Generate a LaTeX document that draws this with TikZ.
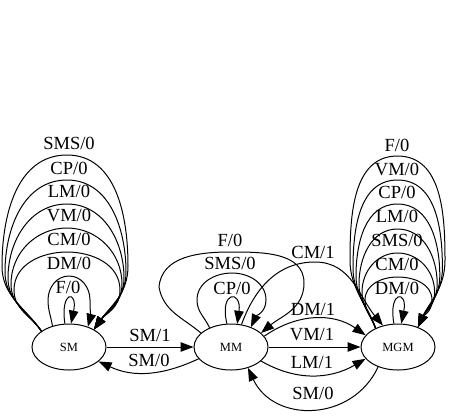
\documentclass[tikz,border=0pt]{standalone}
\usepackage{fontspec}
\setmainfont{Liberation Serif}
\usetikzlibrary{shapes.geometric,arrows.meta}
\begin{document}
\begin{tikzpicture}[x=1pt,y=1pt,
  st/.style={draw, ellipse, line width=1pt, minimum width=74pt, minimum height=46pt, inner sep=0pt, font=\fontsize{12.5}{14}\selectfont},
  lbl/.style={inner sep=0pt, font=\fontsize{18.5}{20}\selectfont},
  tr/.style={draw, line width=1pt, -{Triangle[length=13pt,width=9.5pt]}},
]
\useasboundingbox (0,0) rectangle (449,-416);
\node[st] (SM) at (69,-347) {SM};
\node[st] (MM) at (231,-347) {MM};
\node[st] (MGM) at (398,-347) {MGM};

% SM self loops
\draw[tr] (SM.100) .. controls (60,-290) and (78,-290) .. (SM.85);
\draw[tr] (SM.128) to[out=100,in=-90] (48,-300) to[out=90,in=180] (69,-276) to[out=0,in=90] (90,-300) to[out=-90,in=75] (SM.47);
\draw[tr] (SM.150) to[out=125,in=-90] (14,-290) to[out=90,in=180] (67,-252) to[out=0,in=90] (120,-290) to[out=-90,in=55] (SM.35);
\draw[tr] (SM.150) to[out=125,in=-90] (11,-284) to[out=90,in=180] (67,-228) to[out=0,in=90] (122,-284) to[out=-90,in=55] (SM.35);
\draw[tr] (SM.150) to[out=125,in=-90] (8,-278) to[out=90,in=180] (67,-204) to[out=0,in=90] (124,-278) to[out=-90,in=55] (SM.35);
\draw[tr] (SM.150) to[out=125,in=-90] (5,-272) to[out=90,in=180] (67,-180) to[out=0,in=90] (126,-272) to[out=-90,in=55] (SM.35);
\draw[tr] (SM.150) to[out=125,in=-90] (2,-266) to[out=90,in=180] (67,-155) to[out=0,in=90] (128,-266) to[out=-90,in=55] (SM.35);

% MM self loops
\draw[tr] (MM.100) .. controls (219,-290) and (242,-290) .. (MM.75);
\draw[tr] (MM.138) to[out=115,in=-90] (197,-300) to[out=90,in=180] (232,-273) to[out=0,in=90] (266,-300) to[out=-90,in=65] (MM.45);
\draw[tr] (MM.155) to[out=140,in=-80] (159,-287) to[out=85,in=180] (230,-252) to[out=0,in=90] (304,-283) to[out=-90,in=40] (MM.25);

% MGM self loops
\draw[tr] (MGM.100) .. controls (388,-290) and (408,-290) .. (MGM.82);
\draw[tr] (MGM.140) to[out=110,in=-90] (365,-300) to[out=90,in=180] (397.5,-277) to[out=0,in=90] (432,-300) to[out=-90,in=65] (MGM.45);
\draw[tr] (MGM.140) to[out=110,in=-90] (362,-292) to[out=90,in=180] (397.5,-253) to[out=0,in=90] (434.6,-292) to[out=-90,in=65] (MGM.45);
\draw[tr] (MGM.140) to[out=110,in=-90] (359,-284) to[out=90,in=180] (397.5,-229) to[out=0,in=90] (437.2,-284) to[out=-90,in=65] (MGM.45);
\draw[tr] (MGM.140) to[out=110,in=-90] (356,-276) to[out=90,in=180] (397.5,-204) to[out=0,in=90] (439.8,-276) to[out=-90,in=65] (MGM.45);
\draw[tr] (MGM.140) to[out=110,in=-90] (353,-268) to[out=90,in=180] (397.5,-180) to[out=0,in=90] (442.4,-268) to[out=-90,in=65] (MGM.45);
\draw[tr] (MGM.140) to[out=110,in=-90] (350,-260) to[out=90,in=180] (397.5,-156) to[out=0,in=90] (445,-260) to[out=-90,in=65] (MGM.45);

% transitions
\draw[tr] (SM) -- (MM);
\draw[tr] (MM.-160) to[out=-155,in=-25] (SM.-26);
\draw[tr] (MM.65) to[out=70,in=180] (315,-262) to[out=0,in=130] (MGM.125);
\draw[tr] (MM.18) to[out=35,in=145] (MGM.160);
\draw[tr] (MM) -- (MGM);
\draw[tr] (MM.-25) to[out=-30,in=-150] (MGM.-160);
\draw[tr] (MGM.-135) to[out=-115,in=-65,looseness=1.2] (MM.-51);

% labels SM loops
\node[lbl] (a1) at (69,-143) {SMS/0};
\node[lbl] (a2) at (69,-168) {CP/0};
\node[lbl] (a3) at (69,-191) {LM/0};
\node[lbl] (a4) at (69,-215) {VM/0};
\node[lbl] (a5) at (69,-239) {CM/0};
\node[lbl] (a6) at (69,-263) {DM/0};
\node[lbl] (a7) at (68,-287) {F/0};
% labels MM loops
\node[lbl] (b1) at (230,-240) {F/0};
\node[lbl] (b2) at (230,-263) {SMS/0};
\node[lbl] (b3) at (232,-288) {CP/0};
% labels MGM loops
\node[lbl] (c1) at (397,-145) {F/0};
\node[lbl] (c2) at (397,-169) {VM/0};
\node[lbl] (c3) at (397,-192) {CP/0};
\node[lbl] (c4) at (397,-216) {LM/0};
\node[lbl] (c5) at (397,-240) {SMS/0};
\node[lbl] (c6) at (397,-264) {CM/0};
\node[lbl] (c7) at (397,-288) {DM/0};
% transition labels
\node[lbl] (d1) at (150,-335) {SM/1};
\node[lbl] (d2) at (149,-360) {SM/0};
\node[lbl] (d3) at (313,-252) {CM/1};
\node[lbl] (d4) at (313,-309) {DM/1};
\node[lbl] (d5) at (312,-335) {VM/1};
\node[lbl] (d6) at (312,-362) {LM/1};
\node[lbl] (d7) at (313,-393) {SM/0};
\end{tikzpicture}
\end{document}
